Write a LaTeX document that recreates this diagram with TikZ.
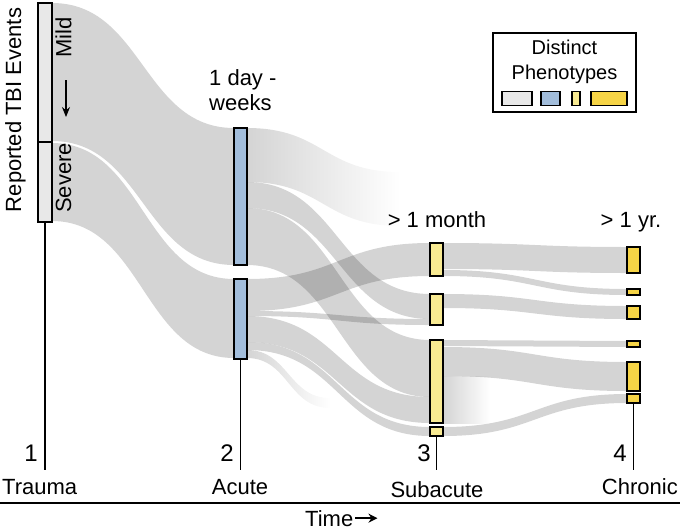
\documentclass[tikz,border=0pt]{standalone}
\usepackage{fontspec}
\setmainfont{Liberation Sans}
\usetikzlibrary{arrows.meta, positioning, calc}

\definecolor{mildgray}{RGB}{232,232,232}
\definecolor{acuteblue}{RGB}{162,189,219}
\definecolor{subyellow}{RGB}{248,234,146}
\definecolor{chronicgold}{RGB}{246,212,70}
\definecolor{flowgray}{RGB}{212,212,212}

\newcommand{\sankeyband}[7][flow]{%
  \pgfmathsetmacro\bandmid{(#2+#5)/2}%
  \path[#1] (#2,#3) .. controls (\bandmid,#3) and (\bandmid,#6) .. (#5,#6)
    -- (#5,#7) .. controls (\bandmid,#7) and (\bandmid,#4) .. (#2,#4) -- cycle;}

\begin{document}
\begin{tikzpicture}[x=1pt, y=-1pt,
    flow/.style={fill=black, fill opacity=0.17},
    fadeflow/.style={left color=flowgray, right color=white},
    box/.style={draw, line width=1.3pt, inner sep=0pt, minimum width=13pt},
    lbl/.style={font=\fontsize{22}{25}\selectfont, inner sep=0pt},
    numlbl/.style={font=\fontsize{24}{26}\selectfont, inner sep=0pt},
    leglbl/.style={font=\fontsize{20}{25}\selectfont, inner sep=0pt},
    tick/.style={line width=1.2pt}]

    \useasboundingbox (0,0) rectangle (680,531);

    \sankeyband{52}{3}{141}{234}{128}{265}
    \sankeyband{52}{143}{221}{234}{279}{358}

    \sankeyband[fadeflow]{247}{128}{182}{400}{172}{226}
    \sankeyband[fadeflow]{247}{350}{358}{330}{398}{408}
    \sankeyband{247}{182}{208}{430}{294}{319}
    \sankeyband{247}{208}{265}{430}{340}{397}
    \sankeyband{247}{279}{311}{430}{243}{276}
    \sankeyband{247}{311}{316}{430}{319}{325}
    \sankeyband{247}{316}{342}{430}{397}{423}
    \sankeyband{247}{342}{350}{430}{427}{436}

    \sankeyband[fadeflow]{443}{376}{423}{490}{376}{423}
    \sankeyband{443}{243}{269}{627}{247}{273}
    \sankeyband{443}{270}{276}{627}{289}{295}
    \sankeyband{443}{294}{308}{627}{306}{319}
    \sankeyband{443}{340}{346}{627}{341}{347}
    \sankeyband{443}{347}{376}{627}{362}{391}
    \sankeyband{443}{427}{436}{627}{394}{403}

    \node[box, fill=mildgray, minimum width=14pt, minimum height=139pt] (mild) at (45,72.5) {};
    \node[box, fill=mildgray, minimum width=14pt, minimum height=80pt] (severe) at (45,182) {};
    \node[box, fill=acuteblue, minimum height=137pt] (acute1) at (240.5,196.5) {};
    \node[box, fill=acuteblue, minimum height=80pt] (acute2) at (240.5,319) {};
    \node[box, fill=subyellow, minimum height=33pt] (sub1) at (436.5,259.5) {};
    \node[box, fill=subyellow, minimum height=31pt] (sub2) at (436.5,309.5) {};
    \node[box, fill=subyellow, minimum height=83pt] (sub3) at (436.5,381.5) {};
    \node[box, fill=subyellow, minimum height=9pt] (sub4) at (436.5,431.5) {};
    \node[box, fill=chronicgold, minimum height=26pt] (chr1) at (633.5,260) {};
    \node[box, fill=chronicgold, minimum height=6pt] (chr2) at (633.5,292) {};
    \node[box, fill=chronicgold, minimum height=13pt] (chr3) at (633.5,312.5) {};
    \node[box, fill=chronicgold, minimum height=6pt] (chr4) at (633.5,344) {};
    \node[box, fill=chronicgold, minimum height=29pt] (chr5) at (633.5,376.5) {};
    \node[box, fill=chronicgold, minimum height=9pt] (chr6) at (633.5,398.5) {};

    \coordinate (tick1) at (45,470);
    \coordinate (tick2) at (240.5,470);
    \coordinate (tick3) at (436.5,470);
    \coordinate (tick4) at (633.5,470);
    \draw[tick] (severe.south) -- (tick1);
    \draw[tick] (acute2.south) -- (tick2);
    \draw[tick] (sub4.south) -- (tick3);
    \draw[tick] (chr6.south) -- (tick4);

    \node[lbl, rotate=90] (events) at (15.5,110) {Reported TBI Events};
    \node[lbl, rotate=90] (mildtxt) at (63.5,37.5) {Mild};
    \node[lbl, rotate=90] (severetxt) at (63.5,178) {Severe};
    \coordinate (sevtop) at (66,80);
    \coordinate (sevbot) at (66,117);
    \draw[-{Stealth[length=10pt, width=8pt]}, line width=1.3pt] (sevtop) -- (sevbot);

    \node[lbl, align=left, anchor=north west] (acutetime) at (209,69) {1 day -\\weeks};
    \node[lbl, anchor=base] (subtime) at (437,227) {> 1 month};
    \node[lbl, anchor=base] (chrtime) at (631,227) {> 1 yr.};

    \node[numlbl, anchor=base east] (n1) at (38,461) {1};
    \node[numlbl, anchor=base east] (n2) at (234,461) {2};
    \node[numlbl, anchor=base east] (n3) at (431,461) {3};
    \node[numlbl, anchor=base east] (n4) at (627,461) {4};

    \node[lbl, anchor=base west] (trauma) at (2,494) {Trauma};
    \node[lbl, anchor=base] (acute) at (240,494) {Acute};
    \node[lbl, anchor=base] (subacute) at (437,497) {Subacute};
    \node[lbl, anchor=base east] (chronic) at (678,494) {Chronic};

    \coordinate (axisl) at (0,503);
    \coordinate (axisr) at (680,503);
    \draw[line width=1.2pt] (axisl) -- (axisr);
    \node[lbl, anchor=base west] (time) at (305,526) {Time};
    \coordinate[right=24pt of time] (timeend);
    \draw[-{Stealth[length=9pt, width=9pt]}, line width=1.6pt, shorten <=2pt] (time) -- (timeend);

    \node[draw, line width=1.3pt, minimum width=143pt, minimum height=79pt] (legend) at (564.5,72.5) {};
    \node[leglbl, align=center, anchor=north] (legtitle) at (564.5,40) {Distinct\\Phenotypes};
    \node[box, fill=mildgray, minimum width=30pt, minimum height=14pt] (sw1) at (517,98.5) {};
    \node[box, fill=acuteblue, minimum width=19pt, minimum height=14pt] (sw2) at (550.5,98.5) {};
    \node[box, fill=subyellow, minimum width=8pt, minimum height=14pt] (sw3) at (576,98.5) {};
    \node[box, fill=chronicgold, minimum width=36pt, minimum height=14pt] (sw4) at (609,98.5) {};
  \end{tikzpicture}
\end{document}
